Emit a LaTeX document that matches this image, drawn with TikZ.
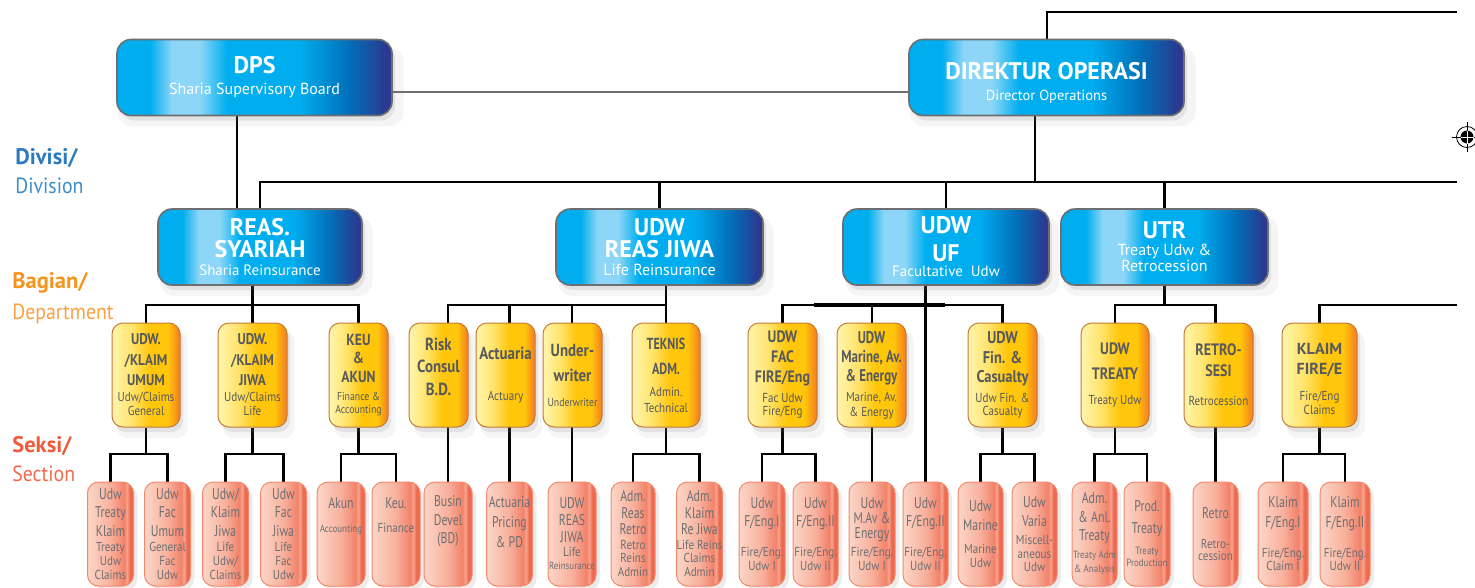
\documentclass[tikz,border=0pt]{standalone}
\usepackage{fontspec}
\setmainfont{PT Sans}
\newfontfamily\headfont[FakeStretch=0.9]{PT Sans}
\newfontfamily\condfont[FakeStretch=0.85]{PT Sans}
\newfontfamily\slimfont[FakeStretch=0.76]{PT Sans}
\usetikzlibrary{shadows,backgrounds}

\definecolor{divA}{HTML}{00AEEF}
\definecolor{divL}{HTML}{8DD6F7}
\definecolor{divM}{HTML}{0070BA}
\definecolor{divD}{HTML}{2B3990}
\definecolor{boxgray}{HTML}{6D6E71}
\definecolor{depA}{HTML}{FFF5AE}
\definecolor{depB}{HTML}{FFE36A}
\definecolor{depC}{HTML}{FFC60B}
\definecolor{depD}{HTML}{F47B20}
\definecolor{depedge}{HTML}{C47A35}
\definecolor{deptext}{HTML}{58595B}
\definecolor{secA}{HTML}{FCD6C8}
\definecolor{secB}{HTML}{F8B09C}
\definecolor{secC}{HTML}{F3826A}
\definecolor{secL}{HTML}{F6A490}
\definecolor{secD}{HTML}{EE6A4F}
\definecolor{secedge}{HTML}{F2896D}
\definecolor{sectext}{HTML}{6D6E71}
\definecolor{divblue}{HTML}{2B7BC0}
\definecolor{divblueL}{HTML}{3C8DCB}
\definecolor{depor}{HTML}{F7941D}
\definecolor{deporL}{HTML}{F9A043}
\definecolor{secred}{HTML}{EF5B3B}
\definecolor{secredL}{HTML}{F16A4C}

\pgfdeclarehorizontalshading{divshade}{100bp}{color(0bp)=(divA); color(25bp)=(divA); color(31bp)=(divA); color(35bp)=(divL); color(40bp)=(divL); color(45bp)=(divA); color(58bp)=(divA); color(67bp)=(divM); color(74bp)=(divD); color(100bp)=(divD)}
\pgfdeclarehorizontalshading{depshade}{100bp}{color(0bp)=(depA); color(25bp)=(depA); color(40bp)=(depB); color(53bp)=(depC); color(66bp)=(depC); color(75bp)=(depD); color(100bp)=(depD)}
\pgfdeclarehorizontalshading{secshade}{100bp}{color(0bp)=(secA); color(25bp)=(secA); color(50bp)=(secB); color(65bp)=(secC); color(68bp)=(secL); color(71bp)=(secD); color(75bp)=(secD); color(100bp)=(secD)}

\newcommand{\divsub}[2][15]{{\mdseries\fontsize{#1}{18}\selectfont #2}}
\newcommand{\depsub}[1]{{\condfont\mdseries\fontsize{13}{14}\selectfont #1}}
\newcommand{\depsmall}[1]{{\condfont\mdseries\fontsize{11.5}{13}\selectfont #1}}
\newcommand{\secsub}[1]{{\condfont\fontsize{13}{14}\selectfont #1}}
\newcommand{\secsmall}[1]{{\condfont\fontsize{10.5}{12}\selectfont #1}}
\newcommand{\labhead}[1]{{\normalfont\bfseries\fontsize{22.5}{29}\selectfont #1}}

\tikzset{every picture/.style={line width=0.75pt},
  softshadow/.style={drop shadow={opacity=0.08, shadow xshift=6pt, shadow yshift=-9pt, shadow scale=1.04}, drop shadow={opacity=0.16, shadow xshift=3pt, shadow yshift=-5pt}},
  divbox/.style={softshadow, shade, shading=divshade, draw=boxgray, line width=1.6pt, rounded corners=14pt, minimum width=206pt, minimum height=76pt, inner sep=0pt, align=center, text=white, font=\bfseries\fontsize{24}{22}\selectfont},
  deptbox/.style={softshadow, shade, shading=depshade, draw=depedge, line width=1pt, rounded corners=11pt, minimum width=68pt, minimum height=104pt, inner sep=0pt, align=center, text=deptext, font=\condfont\bfseries\fontsize{16.5}{20}\selectfont},
  secbox/.style={shade, shading=secshade, draw=secedge, line width=1pt, rounded corners=11pt, minimum width=46pt, minimum height=104pt, inner sep=0pt, align=center, text=sectext, font=\slimfont\fontsize{15.5}{18.5}\selectfont, drop shadow={opacity=0.15, shadow xshift=4pt, shadow yshift=-4pt}},
  link/.style={line width=2.4pt, black},
  lab/.style={anchor=base west, align=left, inner sep=0pt, font=\headfont\fontsize{22}{29}\selectfont}
}

\begin{document}
\begin{tikzpicture}[x=1pt,y=1pt,yscale=-1,xscale=1]
\useasboundingbox (0,0) rectangle (1475,587);

%Row labels
\node[lab, text=divblueL] (divlab) at (15,193) {\labhead{\color{divblue}Divisi/}\\Division};
\node[lab, text=deporL] (deplab) at (12,319) {\labhead{\color{depor}Bagian/}\\[2pt]Department};
\node[lab, text=secredL] (seclab) at (12,481) {\labhead{\color{secred}Seksi/}\\Section};

%Board and director
\node[divbox, minimum width=275pt] (dps) at (254.5,77.5) {DPS\\[-1pt]\divsub[16]{Sharia Supervisory Board}};
\node[divbox, minimum width=275pt] (dir) at (1046.5,77.5) {\rule{0pt}{27pt}DIREKTUR OPERASI\\[-1pt]\divsub[14.5]{Director Operations}};

%Divisions
\node[divbox, minimum width=204pt] (syariah) at (260,247) {REAS.\\SYARIAH\\[-4pt]\divsub{Sharia Reinsurance}};
\node[divbox, minimum width=207pt] (jiwa) at (659.5,247) {UDW\\REAS JIWA\\[-4pt]\divsub[16]{Life Reinsurance}};
\node[divbox] (uf) at (946,247) {UDW\\[6pt]UF\\[-7pt]\divsub{Facultative\ \ Udw}};
\node[divbox, minimum width=207pt] (utr) at (1164.5,247) {UTR\\[-5pt]\divsub[16]{Treaty Udw \&}\\[-6pt]\divsub[16]{Retrocession}};

%Departments
\node[deptbox, font=\condfont\bfseries\fontsize{15.5}{20.5}\selectfont] (umum) at (146,375) {UDW.\\/KLAIM\\UMUM\\[-4.5pt]\depsub{Udw/Claims}\\[-6.5pt]\depsub{General}};
\node[deptbox, minimum width=69pt, font=\condfont\bfseries\fontsize{15.5}{20.5}\selectfont] (klaimjiwa) at (252.5,375) {UDW.\\/KLAIM\\JIWA\\[-4.5pt]\depsub{Udw/Claims}\\[-6.5pt]\depsub{Life}};
\node[deptbox, minimum width=59pt, font=\condfont\bfseries\fontsize{16}{18.5}\selectfont] (keu) at (358.5,375) {KEU\\\&\\AKUN\\[-0.5pt]\depsmall{Finance \&}\\[-5pt]\depsmall{Accounting}};
\node[deptbox, minimum width=59pt, font=\condfont\bfseries\fontsize{17.5}{22.5}\selectfont] (risk) at (438.5,375) {Risk\\Consul\\B.D.\\[-6pt]\mbox{}};
\node[deptbox, minimum width=59pt, font=\condfont\bfseries\fontsize{17.5}{20}\selectfont] (actuaria) at (505.5,375) {Actuaria\\[21pt]\depsub{Actuary}};
\node[deptbox, minimum width=59pt, font=\condfont\bfseries\fontsize{17.5}{25}\selectfont] (uwriter) at (572.5,375) {Under-\\writer\\\depsmall{Underwriter}};
\node[deptbox, font=\slimfont\bfseries\fontsize{16}{25}\selectfont] (teknis) at (666,375) {TEKNIS\\ADM.\\[-3pt]\depsub{Admin.}\\[-9pt]\depsub{Technical}};
\node[deptbox, minimum width=69pt] (fac) at (782.5,375) {UDW\\FAC\\FIRE/Eng\\\depsub{Fac Udw}\\[-7pt]\depsub{Fire/Eng}};
\node[deptbox, minimum width=69pt, font=\slimfont\bfseries\fontsize{17}{19}\selectfont] (marine) at (871.5,375) {UDW\\Marine, Av.\\\& Energy\\[1pt]\depsub{Marine, Av.}\\[-4pt]\depsub{\& Energy}};
\node[deptbox, minimum width=69pt, font=\condfont\bfseries\fontsize{17}{19.5}\selectfont] (fin) at (1002.5,375) {UDW\\Fin. \&\\Casualty\\[0.5pt]\depsub{Udw Fin. \&}\\[-6.5pt]\depsub{Casualty}};
\node[deptbox, font=\condfont\bfseries\fontsize{16.5}{25}\selectfont] (treaty) at (1115,375) {UDW\\TREATY\\\depsub{Treaty Udw}};
\node[deptbox, minimum width=69pt, font=\condfont\bfseries\fontsize{16.5}{21}\selectfont] (retro) at (1218.5,375) {RETRO-\\SESI\\[8pt]\depsub{Retrocession}};
\node[deptbox, minimum width=75pt, font=\bfseries\fontsize{16}{20}\selectfont] (klaimfire) at (1319.5,375) {\rule{0pt}{20pt}KLAIM\\FIRE/E\\[6pt]\depsub{Fire/Eng}\\[-6pt]\depsub{Claims}};

%Sections
\node[secbox] (trk) at (110.5,534) {Udw\\Treaty\\Klaim\\[-3.5pt]\secsub{Treaty}\\[-4.5pt]\secsub{Udw}\\[-4.5pt]\secsub{Claims}};
\node[secbox] (fcu) at (167.5,534) {Udw\\Fac\\Umum\\[-3.5pt]\secsub{General}\\[-4.5pt]\secsub{Fac}\\[-4.5pt]\secsub{Udw}};
\node[secbox] (kjw) at (225.5,534) {Udw/\\Klaim\\Jiwa\\[-3.5pt]\secsub{Life}\\[-4.5pt]\secsub{Udw/}\\[-4.5pt]\secsub{Claims}};
\node[secbox] (fcj) at (283.5,534) {Udw\\Fac\\Jiwa\\[-3.5pt]\secsub{Life}\\[-4.5pt]\secsub{Fac}\\[-4.5pt]\secsub{Udw}};
\node[secbox, minimum width=48pt] (akun) at (341,534) {Akun\\[5.5pt]\secsmall{Accounting}\vrule width0pt depth38pt};
\node[secbox, minimum width=48pt] (keuf) at (396,534) {Keu.\\[5.5pt]\secsub{Finance}\vrule width0pt depth38pt};
\node[secbox, minimum width=48pt] (busin) at (448,534) {Busin\\Devel\\(BD)\vrule width0pt depth28pt};
\node[secbox] (actpd) at (509.5,534) {Actuaria\\[1.5pt]Pricing\\[1.5pt]\& PD\vrule width0pt depth24pt};
\node[secbox, minimum width=48pt] (reasjiwa) at (572,534) {UDW\\[-1.5pt]REAS\\[-1.5pt]JIWA\\[-4.5pt]\secsub{Life}\\[-5.5pt]\secsmall{Reinsurance}};
\node[secbox, minimum width=44pt] (arr) at (633,534) {Adm.\\[-2pt]Reas\\[-2pt]Retro\\[-3.5pt]\secsub{Retro}\\[-5.5pt]\secsub{Reins}\\[-4.5pt]\secsub{Admin}};
\node[secbox, minimum width=45pt] (akr) at (699.5,534) {Adm.\\[-2pt]Klaim\\[-2pt]Re Jiwa\\[-3.5pt]\secsub{Life Reins}\\[-5.5pt]\secsub{Claims}\\[-4.5pt]\secsub{Admin}};
\node[secbox] (fengA) at (762,534) {Udw\\F/Eng.I\\[11.5pt]\secsub{Fire/Eng.}\\[-4.5pt]\secsub{Udw I}};
\node[secbox, minimum width=45pt] (fengB) at (815.5,534) {Udw\\F/Eng.II\\[11.5pt]\secsub{Fire/Eng.}\\[-4.5pt]\secsub{Udw II}};
\node[secbox] (mav) at (872,534) {Udw\\[-3.5pt]M.Av \&\\[-3.5pt]Energy\\[-0.5pt]\secsub{Fire/Eng.}\\[-4.5pt]\secsub{Udw I}};
\node[secbox, minimum width=45pt] (fengC) at (925.5,534) {Udw\\F/Eng.II\\[11.5pt]\secsub{Fire/Eng.}\\[-4.5pt]\secsub{Udw II}};
\node[secbox, minimum width=45pt] (mar) at (980.5,534) {Udw\\Marine\\[4.5pt]\secsub{Marine}\\[-4.5pt]\secsub{Udw}};
\node[secbox, minimum width=45pt] (varia) at (1034.5,534) {Udw\\Varia\\[-0.5pt]\secsub{Miscell-}\\[-4.5pt]\secsub{aneous}\\[-5.5pt]\secsub{Udw}};
\node[secbox, minimum width=45pt] (aat) at (1094.5,534) {Adm.\\\& Anl.\\Treaty\\[-0.5pt]\secsmall{Treaty Adm}\\[-4.5pt]\secsmall{\& Analysis}};
\node[secbox] (prod) at (1147,534) {Prod.\\[3.5pt]Treaty\\[2.5pt]\secsmall{Treaty}\\[-6.5pt]\secsmall{Production}};
\node[secbox, minimum width=45pt] (retrosec) at (1215.5,534) {Retro\\[11.5pt]\secsub{Retro-}\\[-6.5pt]\secsub{cession}};
\node[secbox, minimum width=50pt] (kfa) at (1283,534) {Klaim\\[1.5pt]F/Eng.I\\[11.5pt]\secsub{Fire/Eng.}\\[-5.5pt]\secsub{Claim I}};
\node[secbox, minimum width=50pt] (kfb) at (1345,534) {Klaim\\[1.5pt]F/Eng.II\\[11.5pt]\secsub{Fire/Eng.}\\[-5.5pt]\secsub{Udw II}};

%Free ends and bus levels
\coordinate (topR) at (1457,12);
\coordinate (divR) at (1457,182);
\coordinate (depR) at (1457,305);
\coordinate (secY) at (0,454);
\coordinate (reg) at (1467,137);

\begin{scope}[on background layer]
%Top level
\draw[link, line width=2pt] (dir.north) |- (topR);
\draw[link, boxgray, line width=2pt] ([yshift=14.5pt]dps.east) -- ([yshift=14.5pt]dir.west);
\draw[link] ([xshift=-17.5pt]dps.south) -- ([xshift=-17.5pt]dps.south |- syariah.north);
\draw[link] ([xshift=-11.5pt]dir.south) -- ([xshift=-11.5pt]dir.south |- divR);
\draw[link, line width=2pt] (syariah.north) |- (divR);
\foreach \d in {jiwa,uf,utr}
  \draw[link] (\d.north) -- (\d.north |- divR);

%Divisions to departments
\draw[link] (umum.north) -- (umum.north |- depR) -| (keu.north);
\draw[link] (klaimjiwa.north) -- (klaimjiwa.north |- syariah.south);
\draw[link] (busin.north) -- (busin.north |- depR) -| (teknis.north);
\draw[link] (actpd.north) -- (actpd.north |- depR);
\draw[link] (reasjiwa.north) -- (reasjiwa.north |- depR);
\draw[link] (teknis.north) -- (teknis.north |- jiwa.south);
\draw[link] (fac.north) -- (fac.north |- depR) -| (fin.north);
\draw[link, line width=4pt] ([xshift=31.5pt]fac.north |- depR) -- ([xshift=-57.5pt]fin.north |- depR);
\draw[link] (mav.north) -- (mav.north |- depR);
\draw[link] (fengC.north) -- (fengC.north |- uf.south);
\draw[link] (treaty.north) -- (treaty.north |- depR) -| (retrosec.north);
\draw[link] (utr.south) -- (utr.south |- depR);
\draw[link] (klaimfire.north) |- (depR);

%Departments to sections
\foreach \d/\a/\b in {umum/trk/fcu, klaimjiwa/kjw/fcj, keu/akun/keuf, teknis/arr/akr, fac/fengA/fengB, fin/mar/varia, treaty/aat/prod, klaimfire/kfa/kfb}{
  \draw[link] (\d.south) -- (\d.south |- secY);
  \draw[link] (\a.north) -- (\a.north |- secY) -| (\b.north);
}
\end{scope}

%Registration mark
\draw[line width=0.8pt] (reg) circle (10.5);
\fill (reg) circle (6.5);
\draw[line width=0.8pt] ([xshift=-15pt]reg) -- ([xshift=15pt]reg);
\draw[line width=0.8pt] ([yshift=-15pt]reg) -- ([yshift=15pt]reg);
\draw[white, line width=0.8pt] ([xshift=-6.5pt]reg) -- ([xshift=6.5pt]reg);
\draw[white, line width=0.8pt] ([yshift=-6.5pt]reg) -- ([yshift=6.5pt]reg);

\end{tikzpicture}
\end{document}
